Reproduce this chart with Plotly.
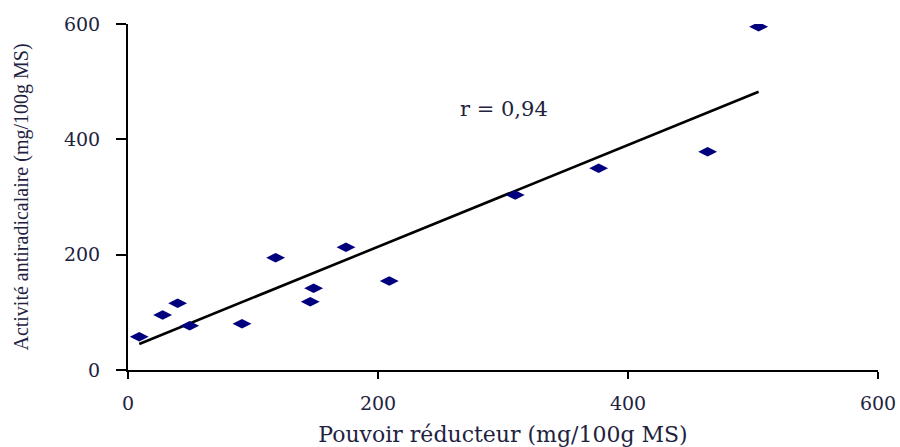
import numpy as np
import plotly.graph_objects as go

# Data
pouvoir_reducteur = [9.0, 27.7, 39.7, 49.3, 91.2, 118.1, 145.8, 148.5, 174.4, 209.0, 309.8, 376.5, 463.7, 504.5]
activite_antiradicalaire = [57.7, 95.4, 115.6, 76.8, 80.3, 194.8, 118.5, 141.6, 212.7, 154.3, 303.4, 349.7, 378.5, 595.3]
tick_values = [0, 200, 400, 600]
r_label = "r = 0,94"

x = np.array(pouvoir_reducteur)
y = np.array(activite_antiradicalaire)
slope, intercept = np.polyfit(x, y, 1)
x_fit = np.array([x.min(), x.max()])
y_fit = slope * x_fit + intercept

text_color = "#22223f"

fig = go.Figure()
fig.add_trace(go.Scatter(
    x=x_fit, y=y_fit, mode="lines",
    line=dict(color="black", width=2.6),
    showlegend=False, hoverinfo="skip",
))
fig.add_trace(go.Scatter(
    x=pouvoir_reducteur, y=activite_antiradicalaire, mode="markers",
    marker=dict(symbol="diamond-wide", size=13.5, color="#00007f"),
    showlegend=False,
))

fig.add_annotation(
    x=301, y=452, xref="x", yref="y", text=r_label, showarrow=False,
    font=dict(family="DejaVu Serif", size=21, color=text_color),
)

axis_common = dict(
    showgrid=False, zeroline=False, showline=True, linecolor="black", linewidth=2,
    ticks="outside", tickcolor="black", tickwidth=2,
    tickvals=tick_values, ticktext=[str(v) for v in tick_values],
    range=[0, 600], automargin=False,
)

fig.update_layout(
    width=900, height=447,
    margin=dict(l=128, r=22, t=24, b=77),
    paper_bgcolor="white", plot_bgcolor="white",
    xaxis=dict(
        **axis_common, ticklen=7, ticklabelstandoff=8,
        tickfont=dict(family="DejaVu Serif", size=19, color=text_color),
        title=dict(text="Pouvoir réducteur (mg/100g MS)", standoff=20,
                   font=dict(family="DejaVu Serif", size=22, color=text_color)),
    ),
    yaxis=dict(
        **axis_common, ticklen=10, ticklabelstandoff=12,
        tickfont=dict(family="DejaVu Serif", size=19, color=text_color),
        title=dict(text="Activité antiradicalaire (mg/100g MS)", standoff=30,
                   font=dict(family="Liberation Serif", size=20, color=text_color)),
    ),
)

fig.write_html("out.html")
